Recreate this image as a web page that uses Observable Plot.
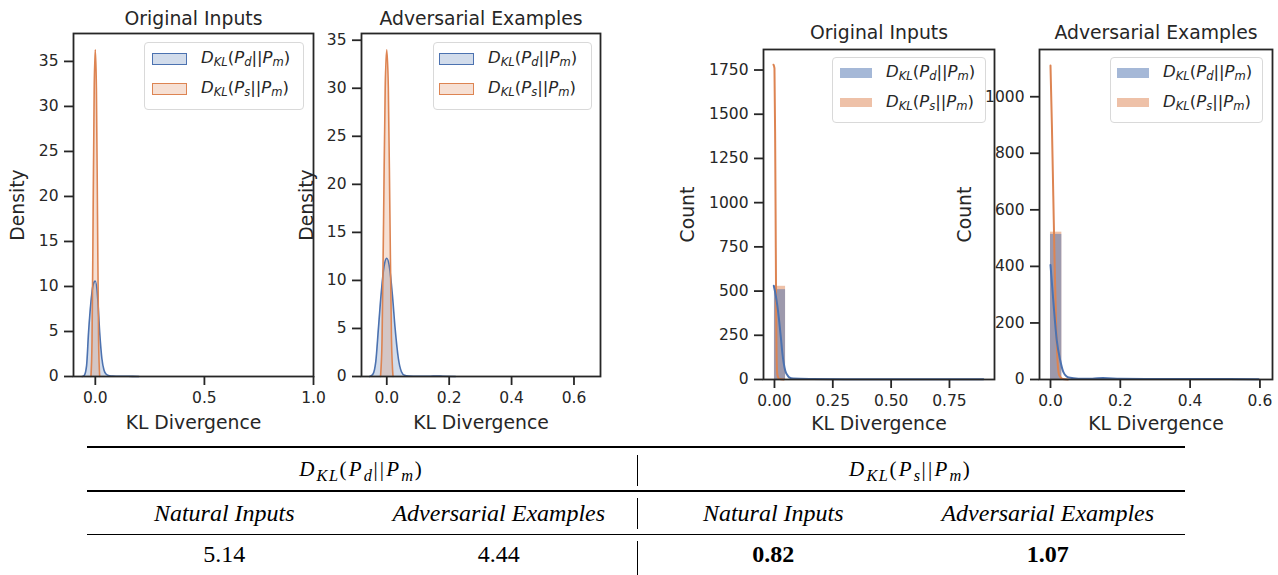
<!DOCTYPE html>
<html>
<head>
<meta charset="utf-8">
<script src="https://cdn.jsdelivr.net/npm/d3@7"></script>
<script src="https://cdn.jsdelivr.net/npm/@observablehq/plot@0.6"></script>
<style>
  html, body { margin: 0; padding: 0; background: white; overflow: hidden; }
  #root { position: relative; width: 1278px; height: 575px; font-family: "DejaVu Sans", sans-serif; color: #262626; }
  #root svg { position: absolute; left: 0; top: 0; }
  .legend { position: absolute; box-sizing: border-box; border: 1px solid #d9d9d9; border-radius: 4px; background: rgba(255,255,255,0.85); }
  .patch { position: absolute; box-sizing: border-box; }
  .ltext { position: absolute; font-family: "DejaVu Sans", sans-serif; font-size: 16.5px; line-height: 20px; white-space: nowrap; color: #262626; }
  .ltext sub { font-size: 70%; vertical-align: -0.25em; line-height: 0; }
  .rule { position: absolute; background: #000; }
  .ttext { position: absolute; font-family: "Liberation Serif", "Times New Roman", serif; font-size: 24px; line-height: 30px; white-space: nowrap; color: #000; text-align: center; }
  .ttext.math { font-size: 21px; letter-spacing: 2.2px; }
  .ttext.math sub { font-size: 78%; vertical-align: -0.3em; line-height: 0; letter-spacing: 1.5px; }
</style>
</head>
<body>
<div id="root"></div>
<script>
// ---------------- data ----------------
const seriesLabels = ["D_KL(P_d||P_m)", "D_KL(P_s||P_m)"];
const seriesColors = ["#4c72b0", "#dd8452"];
const panelTitles = ["Original Inputs", "Adversarial Examples", "Original Inputs", "Adversarial Examples"];
const xLabel = "KL Divergence";
const yLabels = ["Density", "Density", "Count", "Count"];

// Panel 1: density, original inputs
const p1BlueX = [-0.06, -0.05, -0.04, -0.031, -0.02, -0.01, 0, 0.01, 0.02, 0.03, 0.04, 0.05, 0.065, 0.08, 0.1, 0.15, 0.2];
const p1BlueY = [0, 0.15, 1.2, 4.9, 8.3, 10.2, 10.6, 9.0, 4.9, 2.0, 0.7, 0.25, 0.08, 0.04, 0.03, 0.02, 0];
const p1OrangeX = [-0.02, -0.015, -0.01, -0.005, 0, 0.005, 0.01, 0.015, 0.02];
const p1OrangeY = [0, 4, 18, 32, 36.3, 32, 18, 4, 0];
const p1XTicks = [0, 0.5, 1.0];
const p1YTicks = [0, 5, 10, 15, 20, 25, 30, 35];

// Panel 2: density, adversarial examples
const p2BlueX = [-0.055, -0.045, -0.035, -0.027, -0.018, -0.009, 0, 0.009, 0.018, 0.027, 0.037, 0.047, 0.057, 0.07, 0.1, 0.14, 0.16, 0.18, 0.22];
const p2BlueY = [0, 0.2, 1.6, 4.9, 8.6, 11.4, 12.3, 11.3, 8.5, 4.9, 1.9, 0.5, 0.12, 0.05, 0.02, 0.03, 0.05, 0.03, 0];
const p2OrangeX = [-0.02, -0.015, -0.01, -0.005, 0, 0.005, 0.01, 0.015, 0.02];
const p2OrangeY = [0, 4, 17, 30, 34, 30, 17, 4, 0];
const p2XTicks = [0, 0.2, 0.4, 0.6];
const p2YTicks = [0, 5, 10, 15, 20, 25, 30, 35];

// Panel 3: counts, original inputs
const p3BinX1 = [0];
const p3BinX2 = [0.0475];
const p3BlueCount = [508];
const p3OrangeCount = [527];
const p3BlueKdeX = [-0.003, 0.005, 0.012, 0.02, 0.028, 0.034, 0.04, 0.046, 0.055, 0.063, 0.08, 0.15, 0.3, 0.5, 0.7, 0.895];
const p3BlueKdeY = [530, 480, 420, 333, 230, 147, 90, 51, 25, 12, 5, 3, 2, 1, 1, 1];
const p3OrangeKdeX = [-0.004, 0.0, 0.003, 0.005, 0.007, 0.009, 0.012, 0.02, 0.04];
const p3OrangeKdeY = [1780, 1760, 1350, 900, 450, 150, 30, 4, 0];
const p3XTicks = [0, 0.25, 0.5, 0.75];
const p3YTicks = [0, 250, 500, 750, 1000, 1250, 1500, 1750];

// Panel 4: counts, adversarial examples
const p4BinX1 = [0];
const p4BinX2 = [0.0325];
const p4BlueCount = [513];
const p4OrangeCount = [521];
const p4BlueKdeX = [0, 0.0086, 0.018, 0.028, 0.037, 0.052, 0.08, 0.12, 0.15, 0.2, 0.3, 0.45, 0.596];
const p4BlueKdeY = [405, 269, 138, 67, 26, 7, 3, 3, 5, 3, 2, 2, 1];
const p4OrangeKdeX = [0, 0.004, 0.008, 0.012, 0.016, 0.02, 0.025, 0.035, 0.05];
const p4OrangeKdeY = [1110, 900, 650, 400, 200, 70, 15, 2, 0];
const p4XTicks = [0, 0.2, 0.4, 0.6];
const p4YTicks = [0, 200, 400, 600, 800, 1000];

// Table
const tableGroups = ["D_KL(P_d||P_m)", "D_KL(P_s||P_m)"];
const tableColumns = ["Natural Inputs", "Adversarial Examples", "Natural Inputs", "Adversarial Examples"];
const tableValues = [5.14, 4.44, 0.82, 1.07];
const tableBold = [false, false, true, true];

// ---------------- drawing ----------------
const W = 1278, H = 440;
const root = document.getElementById("root");
const ink = "#262626";

function mathHTML(s) {
  return s.replace(/([A-Za-z])_([A-Za-z]+)/g, "<i>$1</i><sub><i>$2</i></sub>");
}

function panel(cfg) {
  const marks = [];
  const n = (a) => ({length: a.length});
  if (cfg.kind === "density") {
    marks.push(Plot.areaY(n(cfg.bx), {x: cfg.bx, y: cfg.by, fill: seriesColors[0], fillOpacity: 0.25, curve: "monotone-x"}));
    marks.push(Plot.areaY(n(cfg.ox), {x: cfg.ox, y: cfg.oy, fill: seriesColors[1], fillOpacity: 0.25, curve: "monotone-x"}));
    marks.push(Plot.line(n(cfg.bx), {x: cfg.bx, y: cfg.by, stroke: seriesColors[0], strokeWidth: 1.6, curve: "monotone-x"}));
    marks.push(Plot.line(n(cfg.ox), {x: cfg.ox, y: cfg.oy, stroke: seriesColors[1], strokeWidth: 1.6, curve: "monotone-x"}));
  } else {
    marks.push(Plot.rectY(n(cfg.x1), {x1: cfg.x1, x2: cfg.x2, y: cfg.oc, fill: seriesColors[1], fillOpacity: 0.5, insetLeft: 0, insetRight: 0}));
    marks.push(Plot.rectY(n(cfg.x1), {x1: cfg.x1, x2: cfg.x2, y: cfg.bc, fill: seriesColors[0], fillOpacity: 0.5, insetLeft: 0, insetRight: 0}));
    marks.push(Plot.line(n(cfg.okx), {x: cfg.okx, y: cfg.oky, stroke: seriesColors[1], strokeWidth: 2, curve: "monotone-x"}));
    marks.push(Plot.line(n(cfg.bkx), {x: cfg.bkx, y: cfg.bky, stroke: seriesColors[0], strokeWidth: 2, curve: "monotone-x"}));
  }
  const svg = Plot.plot({
    width: W, height: H,
    marginLeft: cfg.L, marginRight: W - cfg.R, marginTop: cfg.T, marginBottom: H - cfg.B,
    x: {domain: cfg.xDomain},
    y: {domain: cfg.yDomain},
    style: {background: "transparent", overflow: "visible", fontFamily: "DejaVu Sans", fontSize: "15.5px", color: ink},
    marks: [
      ...marks,
      Plot.frame({stroke: ink, strokeWidth: 1.8}),
      Plot.axisX({ticks: cfg.xTicks, tickFormat: d3.format(cfg.xFmt), tickSize: 9, tickPadding: 6, label: null, strokeWidth: 1.8}),
      Plot.axisY({ticks: cfg.yTicks, tickFormat: (d) => String(d), tickSize: 9, tickPadding: 6, label: null, strokeWidth: 1.8}),
      Plot.text([cfg.title], {frameAnchor: "top", lineAnchor: "bottom", dy: cfg.titleDy, fontSize: 18.8, text: (d) => d}),
      Plot.text([xLabel], {frameAnchor: "bottom", lineAnchor: "bottom", dy: cfg.xlabDy, fontSize: 18.8, text: (d) => d}),
      Plot.text([cfg.ylabel], {frameAnchor: "left", rotate: -90, dx: cfg.ylabDx, textAnchor: "middle", lineAnchor: "middle", fontSize: 18.8, text: (d) => d})
    ]
  });
  root.appendChild(svg);

  // legend
  const lg = cfg.legend;
  const box = document.createElement("div");
  box.className = "legend";
  Object.assign(box.style, {left: lg.x + "px", top: lg.y + "px", width: lg.w + "px", height: lg.h + "px"});
  root.appendChild(box);
  seriesLabels.forEach((lab, i) => {
    const p = document.createElement("div");
    p.className = "patch";
    const cy = lg.rows[i];
    Object.assign(p.style, {left: lg.px + "px", top: (cy - lg.ph / 2) + "px", width: lg.pw + "px", height: lg.ph + "px"});
    if (cfg.kind === "density") {
      p.style.border = "1.6px solid " + seriesColors[i];
      p.style.background = d3.color(seriesColors[i]).copy({opacity: 0.25}).formatRgb();
    } else {
      p.style.background = d3.color(seriesColors[i]).copy({opacity: 0.5}).formatRgb();
    }
    root.appendChild(p);
    const t = document.createElement("div");
    t.className = "ltext";
    t.innerHTML = mathHTML(lab);
    Object.assign(t.style, {left: lg.tx + "px", top: (cy - 11) + "px"});
    root.appendChild(t);
  });
}

panel({kind: "density", L: 73, R: 313, T: 33, B: 376, xDomain: [-0.1, 1.0], yDomain: [0, 38.1],
  bx: p1BlueX, by: p1BlueY, ox: p1OrangeX, oy: p1OrangeY, xTicks: p1XTicks, yTicks: p1YTicks, xFmt: ".1f",
  title: panelTitles[0], titleDy: -9, ylabel: yLabels[0], ylabDx: -56, xlabDy: 52,
  legend: {x: 144, y: 42, w: 160, h: 68, px: 152, pw: 35, ph: 12, rows: [58.5, 89.3], tx: 201}});

panel({kind: "density", L: 361, R: 600, T: 33, B: 376, xDomain: [-0.081, 0.685], yDomain: [0, 35.7],
  bx: p2BlueX, by: p2BlueY, ox: p2OrangeX, oy: p2OrangeY, xTicks: p2XTicks, yTicks: p2YTicks, xFmt: ".1f",
  title: panelTitles[1], titleDy: -9, ylabel: yLabels[1], ylabDx: -55, xlabDy: 52,
  legend: {x: 433, y: 42, w: 159, h: 68, px: 439, pw: 35, ph: 12, rows: [58.5, 89.3], tx: 488}});

panel({kind: "count", L: 763, R: 994, T: 49, B: 379, xDomain: [-0.047, 0.943], yDomain: [0, 1866],
  x1: p3BinX1, x2: p3BinX2, bc: p3BlueCount, oc: p3OrangeCount,
  bkx: p3BlueKdeX, bky: p3BlueKdeY, okx: p3OrangeKdeX, oky: p3OrangeKdeY,
  xTicks: p3XTicks, yTicks: p3YTicks, xFmt: ".2f",
  title: panelTitles[2], titleDy: -10.5, ylabel: yLabels[2], ylabDx: -75.5, xlabDy: 50,
  legend: {x: 832, y: 57, w: 154, h: 66, px: 840, pw: 32, ph: 9.5, rows: [72.8, 102.7], tx: 886}});

panel({kind: "count", L: 1039, R: 1272, T: 49, B: 379, xDomain: [-0.0315, 0.636], yDomain: [0, 1167],
  x1: p4BinX1, x2: p4BinX2, bc: p4BlueCount, oc: p4OrangeCount,
  bkx: p4BlueKdeX, bky: p4BlueKdeY, okx: p4OrangeKdeX, oky: p4OrangeKdeY,
  xTicks: p4XTicks, yTicks: p4YTicks, xFmt: ".1f",
  title: panelTitles[3], titleDy: -10.5, ylabel: yLabels[3], ylabDx: -75, xlabDy: 50,
  legend: {x: 1110, y: 57, w: 153, h: 66, px: 1117, pw: 32, ph: 9.5, rows: [72.8, 102.7], tx: 1163}});

// ---------------- table ----------------
const tLeft = 87, tRight = 1185, tMid = 637;
function rule(x, y, w, h) {
  const d = document.createElement("div");
  d.className = "rule";
  Object.assign(d.style, {left: x + "px", top: y + "px", width: w + "px", height: h + "px"});
  root.appendChild(d);
}
rule(tLeft, 446, tRight - tLeft, 2);
rule(tLeft, 490, tRight - tLeft, 1.5);
rule(tLeft, 533.5, tRight - tLeft, 1.5);
rule(tMid - 0.5, 455, 1, 31);
rule(tMid - 0.5, 498, 1, 31);
rule(tMid - 0.5, 541, 1, 34);

function ttext(html, cx, baseline, cls, opts = {}) {
  const d = document.createElement("div");
  d.className = "ttext" + (cls ? " " + cls : "");
  d.innerHTML = html;
  Object.assign(d.style, {left: (cx - 200) + "px", width: "400px", top: (baseline - 23) + "px"}, opts);
  root.appendChild(d);
}
const colW = (tRight - tLeft) / 4;
tableGroups.forEach((g, i) => ttext(mathHTML(g), tLeft + colW * (2 * i + 1), 477, "math"));
tableColumns.forEach((c, i) => ttext("<i>" + c + "</i>", tLeft + colW * (i + 0.5), 521));
tableValues.forEach((v, i) => ttext(v.toFixed(2), tLeft + colW * (i + 0.5), 562, "", {fontWeight: tableBold[i] ? "bold" : "normal"}));
</script>
</body>
</html>
